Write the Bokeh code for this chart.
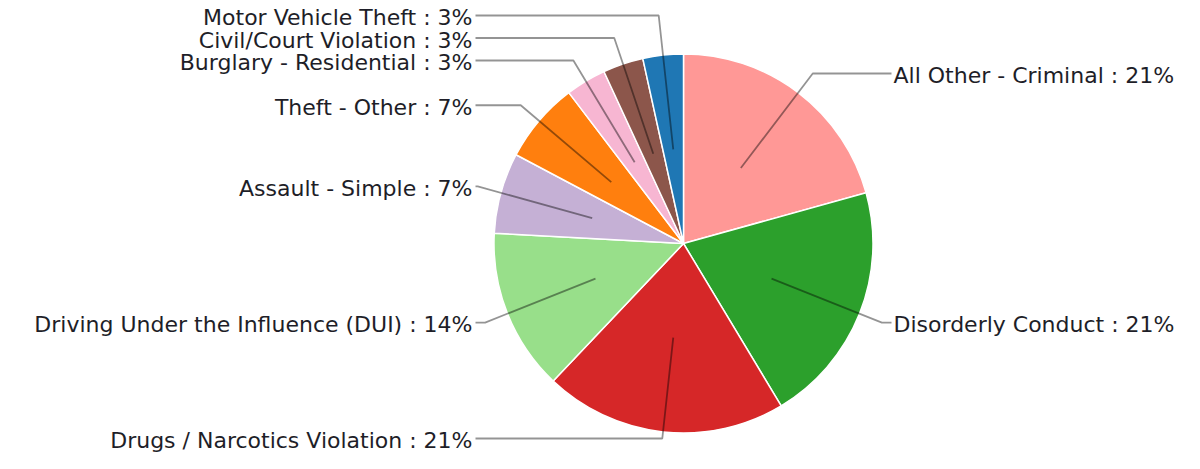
import math
from bokeh.plotting import figure
from bokeh.models import Range1d, ColumnDataSource
from bokeh.core.properties import value
from bokeh.embed import file_html
from bokeh.resources import INLINE

categories = ["All Other - Criminal", "Disorderly Conduct", "Drugs / Narcotics Violation",
              "Driving Under the Influence (DUI)", "Assault - Simple", "Theft - Other",
              "Burglary - Residential", "Civil/Court Violation", "Motor Vehicle Theft"]
counts = [6, 6, 6, 4, 2, 2, 1, 1, 1]
colors = ["#ff9896", "#2ca02c", "#d62728", "#98df8a", "#c5b0d5", "#ff7f0e",
          "#f7b6d2", "#8c564b", "#1f77b4"]

W, H = 1184, 453
# layout in screen pixels (y downwards), converted to data y (upwards)
cx, cy_s, R = 683, 243, 189.5
total = sum(counts)

def dy(ys):
    return H - ys

p = figure(width=W, height=H, x_range=Range1d(0, W), y_range=Range1d(0, H),
           output_backend="svg", toolbar_location=None, min_border=0)
p.axis.visible = False
p.grid.visible = False
p.outline_line_color = None
p.background_fill_color = "white"

starts, ends, mids = [], [], []
cum = 0
for c in counts:
    a0 = cum / total
    cum += c
    a1 = cum / total
    starts.append(math.pi / 2 - 2 * math.pi * a0)
    ends.append(math.pi / 2 - 2 * math.pi * a1)
    mids.append(math.pi * (a0 + a1))

src = ColumnDataSource(dict(start=starts, end=ends, color=colors))
p.wedge(x=cx, y=dy(cy_s), radius=R, start_angle="start", end_angle="end", direction="clock",
        fill_color="color", line_color="white", line_width=1.5, source=src)

# label layout (screen coords)
inner_r, outer_r, gap = 0.5 * R, 1.127 * R, 22.5
labels = []
for i, th in enumerate(mids):
    sx, sy = math.sin(th), -math.cos(th)   # sy: screen-down direction
    labels.append(dict(i=i, sx=sx, sy=sy, side=1 if sx > 0 else -1,
                       y=cy_s + outer_r * sy))

for side in (1, -1):
    group = sorted([l for l in labels if l["side"] == side], key=lambda l: l["y"])
    upper = [l for l in group if l["y"] < cy_s]
    lower = [l for l in group if l["y"] >= cy_s]
    # push upper labels upwards, from the bottom one
    for k in range(len(upper) - 2, -1, -1):
        if upper[k + 1]["y"] - upper[k]["y"] < gap:
            upper[k]["y"] = upper[k + 1]["y"] - gap
    # push lower labels downwards, from the top one
    for k in range(1, len(lower)):
        if lower[k]["y"] - lower[k - 1]["y"] < gap:
            lower[k]["y"] = lower[k - 1]["y"] + gap
    for l in group:
        l["y"] = min(max(l["y"], 12), H - 15)

xs, ys, tx, ty, tt, ta = [], [], [], [], [], []
for l in labels:
    i = l["i"]
    ix, iy = cx + inner_r * l["sx"], cy_s + inner_r * l["sy"]
    ly = l["y"]
    r = (ly - cy_s) / l["sy"] if abs(l["sy"]) > 1e-6 else outer_r
    ex = cx + r * l["sx"]
    endx = cx + l["side"] * 208
    xs.append([ix, ex, endx])
    ys.append([dy(iy), dy(ly), dy(ly)])
    tx.append(cx + (210 if l["side"] > 0 else -211))
    ty.append(dy(ly + 2))
    pct = round(counts[i] / total * 100)
    tt.append(f"{categories[i]} : {pct}%")
    ta.append("left" if l["side"] > 0 else "right")

p.multi_line(xs=xs, ys=ys, line_color="black", line_alpha=0.42, line_width=1.8)
p.text(x=tx, y=ty, text=tt, text_align=ta, text_baseline="middle",
       text_font=value("DejaVu Sans"), text_font_size="22px", text_color="#1e1e28")

open("out.html", "w").write(file_html(p, INLINE))
